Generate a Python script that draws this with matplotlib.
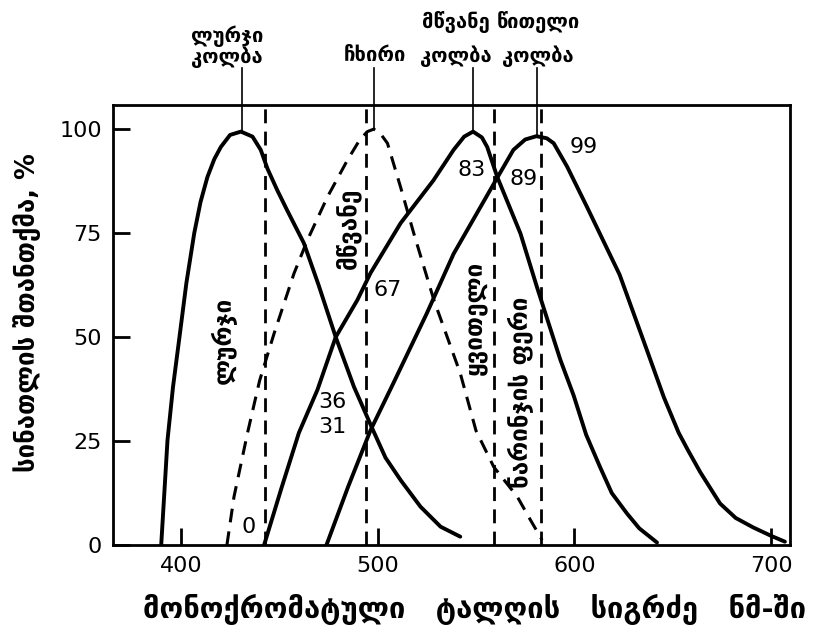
import numpy as np
import matplotlib.pyplot as plt

plt.rcParams['font.family'] = ['DejaVu Sans']

# წერტილები ამოკითხულია სურათიდან (ნმ, %)
blue_nm = [390, 393.2, 396, 399.2, 402.8, 406.8, 410, 413.5, 417, 420.3, 425, 430.5,
           436.4, 440.6, 444, 449, 454, 462.5, 470, 478.7, 488, 497.3, 504, 511.7,
           521.8, 532, 542]
blue_pct = [0, 25.2, 38, 49.7, 63, 75, 82.5, 88.5, 92.8, 95.7, 98.6, 99.4,
            98.2, 95, 90.5, 85.3, 80.5, 72.6, 62.5, 50, 38, 28, 21, 15.6,
            9.2, 4.4, 2]

rod_nm = [423.4, 427, 433.9, 440, 447.4, 457.5, 464.3, 474.5, 484.6, 491, 494.8, 498, 501,
          505, 511.7, 518.4, 528.6, 542, 550, 559, 571, 577.7, 583.6]
rod_pct = [0, 11.6, 27, 39.5, 50.9, 65.3, 73.3, 83.7, 92.5, 97.5, 99.4, 100, 99.2,
           96.6, 86, 74.9, 58.9, 41.3, 27.5, 18.8, 11.6, 6, 1.2]

green_nm = [442.3, 451, 460, 469.4, 478.7, 489.7, 496.4, 511.7, 528.4, 538.6, 544, 548.5,
            553, 555.7, 560.8, 572.6, 581, 592.9, 599.6, 606, 613, 619, 626.7, 633, 642]
green_pct = [0, 13.5, 27, 37.3, 50, 58.9, 65.4, 77.4, 87.7, 95, 98.2, 99.4,
             98, 95.7, 88.5, 74.9, 62, 44.5, 36, 26.5, 18.8, 12.5, 7.6, 4, 0.6]

red_nm = [474, 485, 496.4, 508, 525, 538.6, 560.8, 569, 575, 580.7, 586, 589.5, 596.3,
          606.4, 623, 636, 645.5, 653, 657.5, 664, 674, 682, 691, 700, 707]
red_pct = [0, 14, 27.6, 38.9, 55.7, 70, 88.3, 95, 97.5, 98.3, 97.8, 96.6, 91,
           81.3, 65, 48, 35.5, 27, 23, 17.5, 10, 6.5, 4.2, 2.2, 0.8]

# ფერების საზღვრები (წყვეტილი ვერტიკალები)
bounds_nm = [443, 494, 559, 583]

# პიკები და ზედა წარწერები
peak_nm = [431, 498, 548.5, 581]
peak_pct = [99.4, 100, 99.4, 98.3]
top_labels = [('ლურჯი', 'კოლბა'), ('ჩხირი', None), ('მწვანე', 'კოლბა'), ('წითელი', 'კოლბა')]
top_label_x = [423.5, 498.5, 539.6, 581.5]

region_labels = ['ლურჯი', 'მწვანე', 'ყვითელი', 'ნარინჯის ფერი']
region_x = [421.7, 484.8, 549.7, 573]
region_y = [49.3, 76.2, 54.6, 36.8]

num_labels = ['0', '36', '31', '67', '83', '89', '99']
num_x = [434.5, 477, 477, 505, 548, 574.2, 604.7]
num_y = [4.3, 34.4, 28.4, 61.3, 90.1, 88.1, 95.7]

fig = plt.figure(figsize=(8.18, 6.35), dpi=100)
ax = fig.add_axes([113/818, 90/635, 677/818, 440/635])

for xs, ys in [(blue_nm, blue_pct), (green_nm, green_pct), (red_nm, red_pct)]:
    ax.plot(xs, ys, color='black', lw=2.8, solid_capstyle='round', solid_joinstyle='round')
ax.plot(rod_nm, rod_pct, color='black', lw=2.2, dashes=(4.5, 3))

for b in bounds_nm:
    ax.plot([b, b], [0, 105.8], color='black', lw=2.0, dashes=(5, 3))

for x, y in zip(peak_nm, peak_pct):
    ax.plot([x, x], [y, 114.7], color='black', lw=1.2, clip_on=False)

tf = 14.5
for (l1, l2), x in zip(top_labels, top_label_x):
    if l2 is None:
        ax.text(x, 117.8, l1, ha='center', va='center', fontsize=tf, fontweight='bold')
    elif l1 == 'ლურჯი':
        ax.text(x, 122.3, l1, ha='center', va='center', fontsize=tf, fontweight='bold')
        ax.text(x, 117.3, l2, ha='center', va='center', fontsize=tf, fontweight='bold')
    else:
        ax.text(x, 125.7, l1, ha='center', va='center', fontsize=tf, fontweight='bold')
        ax.text(x, 117.5, l2, ha='center', va='center', fontsize=tf, fontweight='bold')

for t, x, y in zip(region_labels, region_x, region_y):
    ax.text(x, y, t, rotation=90, ha='center', va='center', fontsize=17.5, fontweight='bold')

for t, x, y in zip(num_labels, num_x, num_y):
    ax.text(x, y, t, ha='center', va='center', fontsize=16)

ax.set_xlim(365.5, 709.6)
ax.set_ylim(0, 105.8)
ax.set_xticks([400, 500, 600, 700])
ax.set_yticks([0, 25, 50, 75, 100])
ax.tick_params(direction='in', length=12, width=2, labelsize=16, pad=8,
               top=False, right=False)
for s in ax.spines.values():
    s.set_linewidth(2)

fig.text(27/818, 1 - 313/635, 'სინათლის შთანთქმა, %', rotation=90,
         ha='center', va='center', fontsize=18.5, fontweight='bold')
fig.text(475/818, 1 - 609/635, 'მონოქრომატული   ტალღის   სიგრძე   ნმ-ში',
         ha='center', va='center', fontsize=21, fontweight='bold')

fig.savefig('out.png', dpi=100)
